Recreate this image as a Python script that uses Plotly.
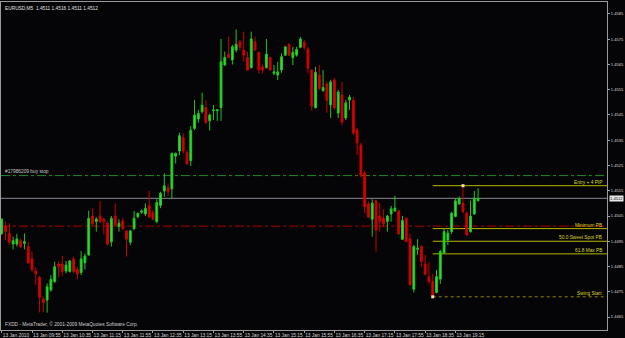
import plotly.graph_objects as go

# ---------------- data ----------------
bar_index = list(range(127))  # M5 bars from 13 Jan 09:15 to 19:45

opens = [1.44981,1.45010,1.44981,1.44939,1.44939,1.44952,1.44942,1.44929,1.44880,1.44832,
         1.44807,1.44721,1.44717,1.44757,1.44790,1.44860,1.44860,1.44832,1.44830,1.44880,
         1.44839,1.44826,1.44865,1.44896,1.45050,1.45028,1.45050,1.45037,1.45021,1.44948,
         1.45050,1.45008,1.45030,1.44991,1.44946,1.44999,1.45047,1.45065,1.45058,1.45091,
         1.45063,1.45028,1.45092,1.45149,1.45162,1.45157,1.45287,1.45307,1.45361,1.45301,
         1.45269,1.45397,1.45434,1.45463,1.45480,1.45427,1.45467,1.45467,1.45479,1.45648,
         1.45691,1.45668,1.45707,1.45740,1.45707,1.45678,1.45637,1.45740,1.45698,1.45641,
         1.45637,1.45678,1.45615,1.45608,1.45628,1.45687,1.45730,1.45677,1.45687,1.45718,
         1.45738,1.45711,1.45628,1.45479,1.45608,1.45546,1.45573,1.45490,1.45589,1.45458,
         1.45529,1.45438,1.45509,1.45509,1.45391,1.45331,1.45220,1.45098,1.45037,1.45110,
         1.45050,1.45041,1.45028,1.45058,1.45070,1.45070,1.44958,1.45041,1.44959,1.44760,
         1.44918,1.44929,1.44860,1.44810,1.44790,1.44747,1.44800,1.44903,1.44955,1.44988,
         1.45048,1.45098,1.45101,1.45061,1.44988,1.45058,1.45110]

highs = [1.45041,1.45028,1.45021,1.44968,1.44979,1.44962,1.44981,1.44948,1.44909,1.44847,
         1.44812,1.44731,1.44783,1.44816,1.44869,1.44869,1.44892,1.44872,1.44876,1.44889,
         1.44849,1.44911,1.44902,1.45071,1.45080,1.45045,1.45109,1.45041,1.45028,1.45050,
         1.45100,1.45037,1.45041,1.44995,1.44995,1.45070,1.45063,1.45076,1.45100,1.45150,
         1.45074,1.45116,1.45146,1.45219,1.45179,1.45301,1.45301,1.45380,1.45377,1.45311,
         1.45406,1.45509,1.45470,1.45538,1.45509,1.45456,1.45489,1.45472,1.45751,1.45701,
         1.45760,1.45727,1.45789,1.45747,1.45780,1.45701,1.45780,1.45760,1.45701,1.45650,
         1.45751,1.45681,1.45648,1.45661,1.45694,1.45723,1.45734,1.45720,1.45720,1.45760,
         1.45747,1.45720,1.45631,1.45641,1.45648,1.45628,1.45582,1.45589,1.45597,1.45549,
         1.45581,1.45509,1.45529,1.45521,1.45399,1.45339,1.45228,1.45107,1.45116,1.45114,
         1.45101,1.45077,1.45054,1.45090,1.45130,1.45074,1.45050,1.45045,1.44979,1.44936,
         1.44958,1.44935,1.44896,1.44867,1.44821,1.44836,1.44916,1.45001,1.44995,1.45067,
         1.45120,1.45127,1.45173,1.45067,1.45111,1.45149,1.45160]

lows = [1.44975,1.44955,1.44935,1.44918,1.44929,1.44922,1.44918,1.44860,1.44830,1.44777,
        1.44668,1.44669,1.44667,1.44750,1.44786,1.44807,1.44812,1.44823,1.44826,1.44823,
        1.44799,1.44816,1.44839,1.44892,1.45010,1.44988,1.45021,1.44977,1.44931,1.44929,
        1.45010,1.44988,1.44995,1.44889,1.44935,1.44995,1.45041,1.45058,1.45050,1.45041,
        1.45034,1.45021,1.45081,1.45126,1.45129,1.45120,1.45258,1.45291,1.45298,1.45252,
        1.45248,1.45390,1.45419,1.45456,1.45417,1.45388,1.45430,1.45427,1.45427,1.45644,
        1.45674,1.45650,1.45698,1.45705,1.45661,1.45625,1.45635,1.45705,1.45615,1.45615,
        1.45635,1.45625,1.45608,1.45588,1.45617,1.45684,1.45684,1.45648,1.45681,1.45714,
        1.45707,1.45615,1.45467,1.45476,1.45549,1.45542,1.45459,1.45438,1.45470,1.45438,
        1.45410,1.45430,1.45470,1.45371,1.45292,1.45204,1.45062,1.45041,1.44968,1.44909,
        1.44988,1.45008,1.44988,1.45028,1.45067,1.44975,1.44955,1.44946,1.44773,1.44747,
        1.44896,1.44850,1.44817,1.44780,1.44730,1.44744,1.44781,1.44900,1.44935,1.44979,
        1.45045,1.45094,1.45061,1.44971,1.44984,1.45054,1.45110]

closes = [1.45037,1.44988,1.44946,1.44952,1.44959,1.44929,1.44948,1.44865,1.44836,1.44820,
          1.44728,1.44707,1.44770,1.44799,1.44849,1.44849,1.44830,1.44856,1.44872,1.44830,
          1.44820,1.44880,1.44892,1.45041,1.45018,1.45038,1.45028,1.45028,1.44939,1.45041,
          1.45014,1.45021,1.44999,1.44958,1.44991,1.45041,1.45061,1.45070,1.45080,1.45047,
          1.45037,1.45103,1.45140,1.45170,1.45146,1.45298,1.45298,1.45368,1.45307,1.45256,
          1.45390,1.45450,1.45456,1.45489,1.45419,1.45450,1.45470,1.45471,1.45661,1.45678,
          1.45678,1.45720,1.45730,1.45718,1.45687,1.45628,1.45751,1.45707,1.45628,1.45628,
          1.45691,1.45628,1.45621,1.45621,1.45681,1.45720,1.45687,1.45698,1.45710,1.45751,
          1.45718,1.45635,1.45485,1.45619,1.45555,1.45559,1.45507,1.45581,1.45478,1.45541,
          1.45422,1.45498,1.45521,1.45379,1.45339,1.45208,1.45086,1.45045,1.45101,1.44995,
          1.45028,1.45019,1.45050,1.45078,1.45081,1.44979,1.45032,1.44949,1.44777,1.44929,
          1.44922,1.44870,1.44819,1.44790,1.44735,1.44810,1.44909,1.44988,1.44982,1.45061,
          1.45110,1.45120,1.45067,1.44975,1.45050,1.45120,1.45120]

x_tick_bars = [0, 8, 16, 24, 32, 40, 48, 56, 64, 72, 80, 88, 96, 104, 112, 120]
x_tick_labels = ["13 Jan 2010", "13 Jan 09:55", "13 Jan 10:35", "13 Jan 11:15",
                 "13 Jan 11:55", "13 Jan 12:35", "13 Jan 13:15", "13 Jan 13:55",
                 "13 Jan 14:35", "13 Jan 15:15", "13 Jan 15:55", "13 Jan 16:35",
                 "13 Jan 17:15", "13 Jan 17:55", "13 Jan 18:35", "13 Jan 19:15"]
y_ticks = [1.4465, 1.4475, 1.4485, 1.4495, 1.4505, 1.4515, 1.4525,
           1.4535, 1.4545, 1.4555, 1.4565, 1.4575, 1.4585]

bid_price = 1.4512
buy_stop_price = 1.4521
red_level_price = 1.4501
fib_prices = [1.4517, 1.4500, 1.4495, 1.4490, 1.4473]
fib_labels = ["Entry + 4 PIP", "Minimum PB", "50.0 Sweet Spot PB", "61.8 Max PB", "Swing Start"]
fib_start_bar = 114
fib_anchor_bars = [122, 114]
fib_anchor_prices = [1.4517, 1.4473]

title_text = "EURUSD,M5  1.4511 1.4516 1.4511 1.4512"
copyright_text = "FXDD - MetaTrader, \u00a9 2001-2009 MetaQuotes Software Corp."
order_text = "#17986209 buy stop"

# ---------------- figure ----------------
BG = "#050406"
FONT = "Liberation Sans"
FS = 4.8
FSY = 4.1
XMAX = 160.1

fig = go.Figure()
fig.add_trace(go.Candlestick(
    x=bar_index, open=opens, high=highs, low=lows, close=closes,
    increasing=dict(line=dict(color="#22c422", width=1), fillcolor="#2ee62e"),
    decreasing=dict(line=dict(color="#c80000", width=1), fillcolor="#e00000"),
    whiskerwidth=0, hoverinfo="skip", showlegend=False))

# horizontal levels
fig.add_shape(type="line", xref="x", yref="y", x0=-0.2, x1=XMAX, y0=buy_stop_price, y1=buy_stop_price,
              line=dict(color="#1f8f1f", width=1, dash="dashdot"), layer="below")
fig.add_shape(type="line", xref="x", yref="y", x0=-0.2, x1=XMAX, y0=red_level_price, y1=red_level_price,
              line=dict(color="#b00000", width=1, dash="dashdot"), layer="below")
fig.add_shape(type="line", xref="x", yref="y", x0=-0.2, x1=XMAX, y0=bid_price, y1=bid_price,
              line=dict(color="#8a8a96", width=1), layer="below")

for i, (p, lab) in enumerate(zip(fib_prices, fib_labels)):
    last = i == len(fib_prices) - 1
    fig.add_shape(type="line", xref="x", yref="y", x0=fib_start_bar, x1=XMAX, y0=p, y1=p,
                  line=dict(color="#8a8a00" if last else "#b8b800", width=1,
                            dash="dot" if last else "solid"), layer="below")
    fig.add_annotation(xref="paper", yref="y", x=0.995, y=p, text=lab, showarrow=False,
                       xanchor="right", yanchor="bottom", yshift=-1,
                       font=dict(family=FONT, size=FS, color="#d8d820"))

fig.add_trace(go.Scatter(x=fib_anchor_bars, y=fib_anchor_prices, mode="markers",
                         marker=dict(symbol="square", size=3, color="#ffd8a8"),
                         hoverinfo="skip", showlegend=False))

fig.add_annotation(xref="paper", yref="y", x=0.004, y=buy_stop_price, text=order_text,
                   showarrow=False, xanchor="left", yanchor="bottom",
                   font=dict(family=FONT, size=FS, color="#c8c8c8"))
fig.add_annotation(xref="paper", yref="paper", x=0.004, y=0.995, text=title_text,
                   showarrow=False, xanchor="left", yanchor="top",
                   font=dict(family=FONT, size=FS, color="#e0e0e0"))
fig.add_annotation(xref="paper", yref="paper", x=0.004, y=0.004, text=copyright_text,
                   showarrow=False, xanchor="left", yanchor="bottom",
                   font=dict(family=FONT, size=FS, color="#d0d0d0"))
fig.add_annotation(xref="paper", yref="y", x=1.0, y=bid_price, text="1.4512",
                   showarrow=False, xanchor="left", yanchor="middle", xshift=2,
                   bgcolor="#e8e8e8", borderpad=0,
                   font=dict(family=FONT, size=FSY, color="#000000"))

fig.update_layout(
    width=625, height=338,
    margin=dict(l=1, r=18, t=2, b=8),
    paper_bgcolor=BG, plot_bgcolor=BG,
    showlegend=False,
    xaxis=dict(range=[-0.2, XMAX], rangeslider=dict(visible=False),
               tickvals=x_tick_bars, ticktext=x_tick_labels,
               ticklabelposition="outside right", tickangle=0, automargin=False,
               ticks="outside", ticklen=2, tickcolor="#a0a0a0",
               tickfont=dict(family=FONT, size=FS, color="#d8d8d8"),
               showgrid=False, zeroline=False,
               showline=True, linecolor="#9a9a9a", linewidth=1, mirror=True),
    yaxis=dict(range=[1.445985, 1.458975], side="right", automargin=False,
               tickvals=y_ticks, tickformat=".4f",
               ticks="outside", ticklen=2, tickcolor="#a0a0a0",
               tickfont=dict(family=FONT, size=FSY, color="#d8d8d8"),
               showgrid=False, zeroline=False,
               showline=True, linecolor="#9a9a9a", linewidth=1, mirror=True),
)

fig.write_html("out.html")
